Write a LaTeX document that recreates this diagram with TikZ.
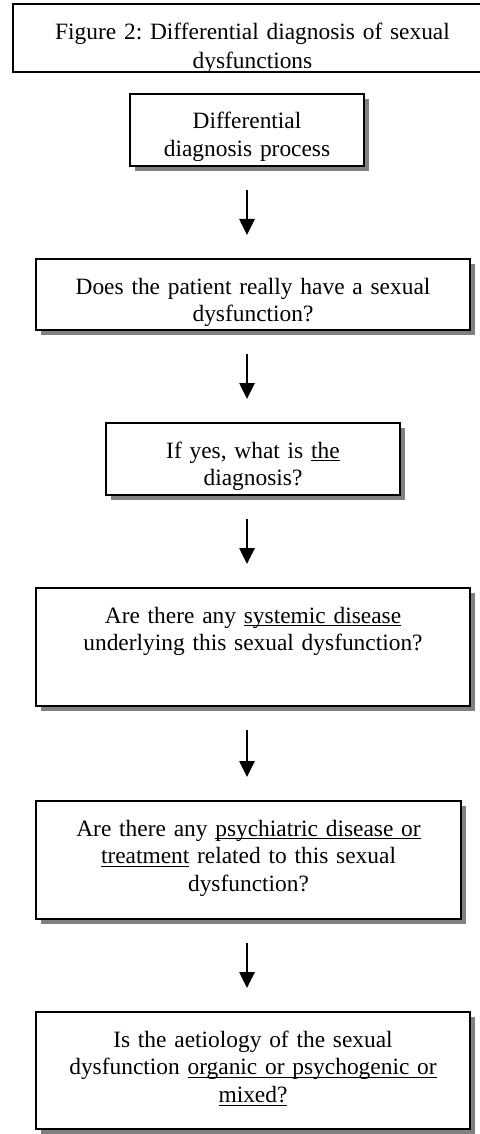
\documentclass[tikz,border=0pt,12pt]{standalone}
\usepackage{fontspec}
\setmainfont{Liberation Serif}
\usepackage{tikz}
\usetikzlibrary{arrows.meta,positioning,shadows}

\newcommand{\ulin}[1]{\underline{\smash{#1}}}
\frenchspacing

\begin{document}
\begin{tikzpicture}[->,>={Triangle[width=7.5pt,length=8pt]},node distance=46.5pt,
  box/.style={rectangle,draw,line width=0.9pt,fill=white,inner sep=0pt,outer sep=0pt,align=center,text height=17.5pt,
    font=\fontsize{11.7}{13.8}\selectfont,drop shadow={shadow xshift=2.5pt,shadow yshift=-2.5pt,fill=black!50,opacity=1}},
  arr/.style={line width=1.3pt,shorten <=12pt,shorten >=12pt}]
\useasboundingbox (0,0) rectangle (239.5pt,-567pt);
\node[rectangle,draw,line width=1.1pt,inner sep=0pt,outer sep=0pt,align=center,text width=239.5pt,text height=18pt,text depth=16pt,
  font=\fontsize{11.7}{14.5}\selectfont] (title) at (126.25pt,-19pt) {Figure 2: Differential diagnosis of sexual\\dysfunctions};
\node[box,text width=117pt,text depth=18.5pt,below=11pt of title,xshift=-2.75pt] (proc) {Differential\\diagnosis process};
\node[box,text width=217pt,text depth=18pt,below=of proc,xshift=3pt] (ask) {Does the patient really have a sexual\\dysfunction?};
\node[box,text width=147pt,text depth=18.5pt,below=of ask] (yes) {If yes, what is \ulin{the}\\diagnosis?};
\node[box,text width=217pt,text depth=41.5pt,below=of yes] (sys) {Are there any \ulin{systemic disease}\\underlying this sexual dysfunction?};
\node[box,text width=212.5pt,text depth=41.5pt,below=47.5pt of sys,xshift=-2.25pt] (psy) {Are there any \ulin{psychiatric disease or}\\\ulin{treatment} related to this sexual\\dysfunction?};
\node[box,text width=217pt,text depth=41pt,below=of psy,xshift=2.25pt] (aet) {Is the aetiology of the sexual\\dysfunction \ulin{organic or psychogenic or}\\\ulin{mixed?}};
\draw[arr] (proc.south)--(ask.north -| proc.south);\draw[arr] (ask.south -| proc.south)--(yes.north -| proc.south);
\draw[arr] (yes.south -| proc.south)--(sys.north -| proc.south);\draw[arr] (sys.south -| proc.south)--(psy.north -| proc.south);
\draw[arr] (psy.south -| proc.south)--(aet.north -| proc.south);
\end{tikzpicture}
\end{document}
